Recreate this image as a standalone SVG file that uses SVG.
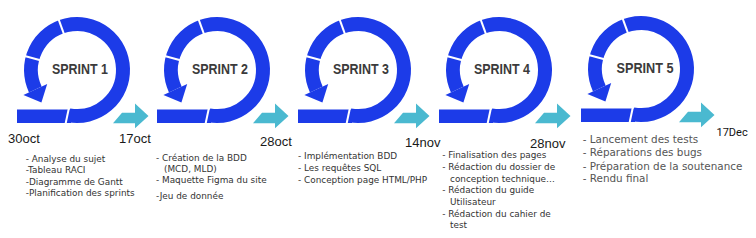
<svg xmlns="http://www.w3.org/2000/svg" xmlns:xlink="http://www.w3.org/1999/xlink" width="756" height="238" viewBox="0 0 756 238">
<style>
.ring{fill:none;stroke:#1c3be8;stroke-width:14}
.blue{fill:#1c3be8}
.gap{stroke:#ffffff;stroke-width:2;fill:none}
.cyan{fill:#4ab9d0}
.title{font-family:"Liberation Sans",Arial,sans-serif;font-weight:bold;font-size:15px;fill:#3b3b3b;text-anchor:middle}
.date{font-family:"Liberation Sans",Arial,sans-serif;font-size:13px;fill:#1a1a1a}
.b{font-family:"DejaVu Sans",sans-serif;font-size:8.9px;fill:#333333}
.b5{font-family:"DejaVu Sans",sans-serif;font-size:10.4px;fill:#555555}
.d5{font-family:Roboto,"Liberation Sans",sans-serif;font-size:11px;fill:#111111}
</style>
<defs>
<g id="icon">
<rect class="blue" x="-60" y="39.5" width="54" height="13.5"/>
<path class="ring" d="M -7.99 45.3 A 46 46 0 1 0 -41.69 19.44"/>
<polygon class="blue" points="-53.6,25 -29.8,13.9 -35.6,32.6"/>
<line class="gap" x1="-7.5" y1="35.2" x2="-12" y2="56.5"/>
<line class="gap" x1="-12.3" y1="-33.8" x2="-19.5" y2="-53.6"/>
<line class="gap" x1="-34.8" y1="-9.3" x2="-55.1" y2="-14.8"/>
</g>
<polygon id="next" class="cyan" points="36,123.3 45,112.7 58,112.7 58,103.5 71.5,116 58,128.3 58,123.3"/>
</defs>

<g id="sprint1">
<use xlink:href="#icon" transform="translate(77,70)"/>
<text class="title" x="80" y="74" textLength="56" lengthAdjust="spacingAndGlyphs">SPRINT 1</text>
</g>
<g id="sprint2">
<use xlink:href="#icon" transform="translate(217,70)"/>
<text class="title" x="220" y="74" textLength="56" lengthAdjust="spacingAndGlyphs">SPRINT 2</text>
</g>
<g id="sprint3">
<use xlink:href="#icon" transform="translate(358,70)"/>
<text class="title" x="361" y="74" textLength="56" lengthAdjust="spacingAndGlyphs">SPRINT 3</text>
</g>
<g id="sprint4">
<use xlink:href="#icon" transform="translate(499,70)"/>
<text class="title" x="502" y="74" textLength="56" lengthAdjust="spacingAndGlyphs">SPRINT 4</text>
</g>
<g id="sprint5">
<use xlink:href="#icon" transform="translate(641,69)"/>
<text class="title" x="645" y="73" textLength="57" lengthAdjust="spacingAndGlyphs">SPRINT 5</text>
</g>

<g id="connectors">
<use xlink:href="#next" transform="translate(77,0)"/>
<use xlink:href="#next" transform="translate(217,0)"/>
<use xlink:href="#next" transform="translate(358,0)"/>
<use xlink:href="#next" transform="translate(499,0)"/>
<use xlink:href="#next" transform="translate(643,-1)"/>
</g>

<g id="dates">
<text class="date" x="8" y="143">30oct</text>
<text class="date" x="119" y="143">17oct</text>
<text class="date" x="260" y="146">28oct</text>
<text class="date" x="405" y="146.5">14nov</text>
<text class="date" x="530" y="148">28nov</text>
<text class="d5" x="716.5" y="136">17Dec</text>
</g>

<g id="tasks1">
<text class="b" x="25.7" y="161.7">- Analyse du sujet</text>
<text class="b" x="25.7" y="173.3">-Tableau RACI</text>
<text class="b" x="25.7" y="184.6">-Diagramme de Gantt</text>
<text class="b" x="25.7" y="196">-Planification des sprints</text>
</g>
<g id="tasks2">
<text class="b" x="156" y="160.7">- Création de la BDD</text>
<text class="b" x="164" y="172.3">(MCD, MLD)</text>
<text class="b" x="156" y="183.3">- Maquette Figma du site</text>
<text class="b" x="156" y="199.3">-Jeu de donnée</text>
</g>
<g id="tasks3">
<text class="b" x="298" y="159">- Implémentation BDD</text>
<text class="b" x="298" y="171">- Les requêtes SQL</text>
<text class="b" x="298" y="182.7">- Conception page HTML/PHP</text>
</g>
<g id="tasks4">
<text class="b" x="442.3" y="158.3">- Finalisation des pages</text>
<text class="b" x="442.3" y="170">- Rédaction du dossier de</text>
<text class="b" x="450" y="181.7">conception technique…</text>
<text class="b" x="442.3" y="193.3">- Rédaction du guide</text>
<text class="b" x="450" y="205">Utilisateur</text>
<text class="b" x="442.3" y="217">- Rédaction du cahier de</text>
<text class="b" x="450" y="228.3">test</text>
</g>
<g id="tasks5">
<text class="b5" x="582.7" y="143.3">- Lancement des tests</text>
<text class="b5" x="582.7" y="156">- Réparations des bugs</text>
<text class="b5" x="582.7" y="170">- Préparation de la soutenance</text>
<text class="b5" x="582.7" y="182.3">- Rendu final</text>
</g>
</svg>
